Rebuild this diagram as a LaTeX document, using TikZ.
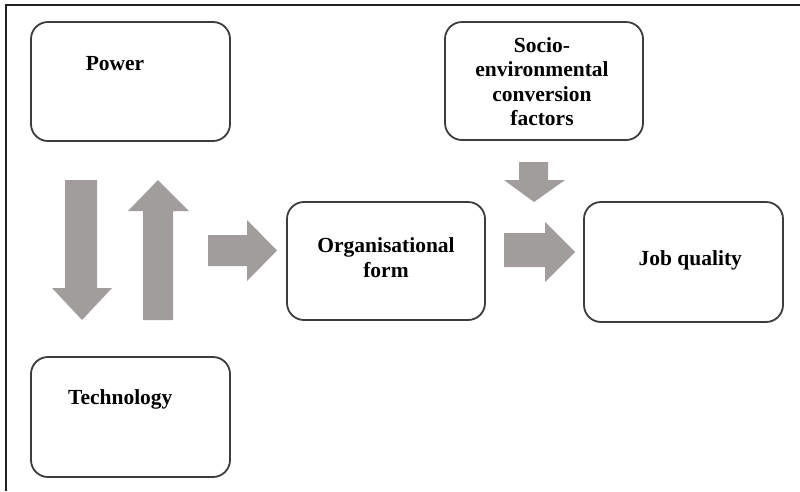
\documentclass[tikz,border=0pt]{standalone}
\usepackage{fontspec}
\setmainfont{Liberation Serif}
\definecolor{arrowgray}{RGB}{161,157,157}
\definecolor{boxline}{RGB}{60,60,60}
\definecolor{framecol}{RGB}{35,35,35}
\tikzset{
  box/.style={draw=boxline, line width=1.8pt, rounded corners=17pt, fill=white, inner sep=0pt},
  lbl/.style={font=\bfseries\fontsize{21.5}{24.5}\selectfont, align=center, inner sep=0pt, text=black},
  blockarrow/.style={fill=arrowgray, draw=none}
}
\begin{document}
\begin{tikzpicture}[x=1pt,y=-1pt]
\useasboundingbox (0,0) rectangle (800,491);
\fill[white] (0,0) rectangle (800,491);
% frame (left and top)
\draw[framecol, line width=2pt] (6,491) -- (6,4.5) -- (800,4.5);
% boxes
\node[box, minimum width=199pt, minimum height=119pt] (power) at (130.5,81.5) {};
\node[box, minimum width=199pt, minimum height=120pt] (tech) at (130.5,417) {};
\node[box, minimum width=198pt, minimum height=118pt] (org) at (386,261) {};
\node[box, minimum width=199pt, minimum height=120pt] (job) at (683.5,262) {};
\node[box, minimum width=198pt, minimum height=118pt] (socio) at (544,81) {};
% labels
\node[lbl, anchor=base] (powerT) at (115,70.5) {Power};
\node[lbl, anchor=base] (techT) at (120.3,404) {Technology};
\node[lbl, anchor=base] (jobT) at (690.3,265.5) {Job quality};
\node[lbl] (orgT) at (386,257.5) {Organisational\\form};
\node[lbl] (socioT) at (542,81.5) {Socio-\\environmental\\conversion\\factors};
% block arrows
\fill[blockarrow] (65,180) -- (97,180) -- (97,288) -- (112,288) -- (82,320) -- (52,288) -- (65,288) -- cycle;
\fill[blockarrow] (143,320) -- (173,320) -- (173,211) -- (189,211) -- (158,180) -- (128,211) -- (143,211) -- cycle;
\fill[blockarrow] (208,235) -- (247,235) -- (247,220) -- (277,250.5) -- (247,281) -- (247,266) -- (208,266) -- cycle;
\fill[blockarrow] (504,233) -- (545,233) -- (545,222) -- (575,252) -- (545,282) -- (545,267) -- (504,267) -- cycle;
\fill[blockarrow] (519,162) -- (548,162) -- (548,180) -- (565,180) -- (534,202) -- (504,180) -- (519,180) -- cycle;
\end{tikzpicture}
\end{document}
